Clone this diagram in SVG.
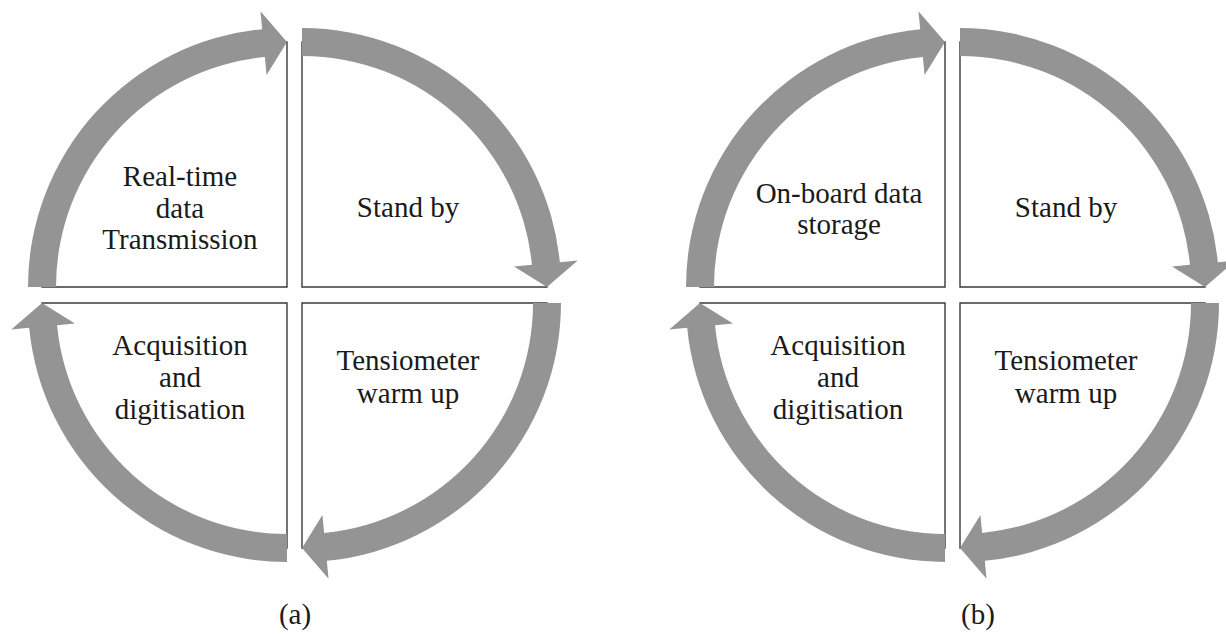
<svg xmlns="http://www.w3.org/2000/svg" xmlns:xlink="http://www.w3.org/1999/xlink" width="1226" height="634" viewBox="0 0 1226 634">
<style>
.box{fill:#ffffff;stroke:#3a3a3a;stroke-width:1.4}
.arr{fill:#949494;stroke:none}
text.t{font-family:"Liberation Serif","Tinos","DejaVu Serif",serif !important;font-size:29px;fill:#1a1a1a;text-anchor:middle}
</style>
<defs>
<path id="arc" d="M -259 0 A 259 259 0 0 1 -24.82 -257.81 L -26.55 -275.73 L 0 -245 L -20.42 -212.02 L -22.14 -229.94 A 231 231 0 0 0 -231 0 Z"/>
</defs>
<rect width="1226" height="634" fill="#ffffff"/>
<g id="cycle-a">
<g id="a-transmission"><path class="box" d="M287,287 H42 A245,245 0 0 1 287,42 Z"/><text class="t" style="font-family:'Liberation Serif',serif" x="180" y="186">Real-time</text><text class="t" style="font-family:'Liberation Serif',serif" x="180" y="218">data</text><text class="t" style="font-family:'Liberation Serif',serif" x="180" y="249">Transmission</text></g>
<g id="a-standby"><path class="box" d="M302,287 V42 A245,245 0 0 1 547,287 Z"/><text class="t" style="font-family:'Liberation Serif',serif" x="408" y="217">Stand by</text></g>
<g id="a-warmup"><path class="box" d="M302,303 H547 A245,245 0 0 1 302,548 Z"/><text class="t" style="font-family:'Liberation Serif',serif" x="408" y="370">Tensiometer</text><text class="t" style="font-family:'Liberation Serif',serif" x="408" y="403">warm up</text></g>
<g id="a-acquisition"><path class="box" d="M287,303 V548 A245,245 0 0 1 42,303 Z"/><text class="t" style="font-family:'Liberation Serif',serif" x="180" y="355">Acquisition</text><text class="t" style="font-family:'Liberation Serif',serif" x="180" y="387">and</text><text class="t" style="font-family:'Liberation Serif',serif" x="180" y="419">digitisation</text></g>
</g>
<g id="cycle-b">
<g id="b-storage"><path class="box" d="M945,287 H700 A245,245 0 0 1 945,42 Z"/><text class="t" style="font-family:'Liberation Serif',serif" x="839" y="203">On-board data</text><text class="t" style="font-family:'Liberation Serif',serif" x="839" y="234">storage</text></g>
<g id="b-standby"><path class="box" d="M960,287 V42 A245,245 0 0 1 1205,287 Z"/><text class="t" style="font-family:'Liberation Serif',serif" x="1066" y="217">Stand by</text></g>
<g id="b-warmup"><path class="box" d="M960,303 H1205 A245,245 0 0 1 960,548 Z"/><text class="t" style="font-family:'Liberation Serif',serif" x="1066" y="370">Tensiometer</text><text class="t" style="font-family:'Liberation Serif',serif" x="1066" y="403">warm up</text></g>
<g id="b-acquisition"><path class="box" d="M945,303 V548 A245,245 0 0 1 700,303 Z"/><text class="t" style="font-family:'Liberation Serif',serif" x="838" y="355">Acquisition</text><text class="t" style="font-family:'Liberation Serif',serif" x="838" y="387">and</text><text class="t" style="font-family:'Liberation Serif',serif" x="838" y="419">digitisation</text></g>
</g>
<g id="connectors">
<use class="arr" xlink:href="#arc" transform="translate(287,287)"/>
<use class="arr" xlink:href="#arc" transform="translate(302,287) rotate(90)"/>
<use class="arr" xlink:href="#arc" transform="translate(302,303) rotate(180)"/>
<use class="arr" xlink:href="#arc" transform="translate(287,303) rotate(270)"/>
<use class="arr" xlink:href="#arc" transform="translate(945,287)"/>
<use class="arr" xlink:href="#arc" transform="translate(960,287) rotate(90)"/>
<use class="arr" xlink:href="#arc" transform="translate(960,303) rotate(180)"/>
<use class="arr" xlink:href="#arc" transform="translate(945,303) rotate(270)"/>
</g>
<text class="t" x="295" y="624">(a)</text>
<text class="t" x="978" y="624">(b)</text>
</svg>
